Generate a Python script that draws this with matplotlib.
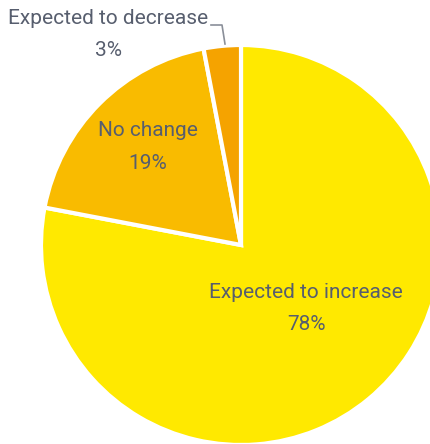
import matplotlib.pyplot as plt

labels = ["Expected to increase", "No change", "Expected to decrease"]
shares = [78, 19, 3]
colors = ["#FFE900", "#F9BB00", "#F5A300"]

text_color = "#575E6E"
H = 444

fig = plt.figure(figsize=(4.30, 4.44), dpi=100)
ax = fig.add_axes([0, 0, 1, 1])

# pie in pixel-like coordinates (y measured from the bottom), clockwise from 12 o'clock
ax.pie(shares, colors=colors, startangle=90, counterclock=False,
       center=(241, H - 245), radius=200, frame=True,
       wedgeprops=dict(edgecolor="white", linewidth=3))
ax.set_xlim(0, 430)
ax.set_ylim(0, H)
ax.set_aspect("equal")
ax.axis("off")

font = dict(family="Roboto", weight="normal", color=text_color, fontsize=15,
            ha="center", va="center")

ax.text(306, H - 292, labels[0], **font)
ax.text(306, H - 324, f"{shares[0]}%", **font)
ax.text(148, H - 130, labels[1], **font)
ax.text(148, H - 163, f"{shares[1]}%", **font)
ax.text(108, H - 18, labels[2], **font)
ax.text(108, H - 50, f"{shares[2]}%", **font)

# leader line for the small slice
ax.plot([211, 222, 225], [H - 25, H - 25, H - 44], color="#8A8F99", lw=1.2)

fig.savefig("out.png", dpi=100)
